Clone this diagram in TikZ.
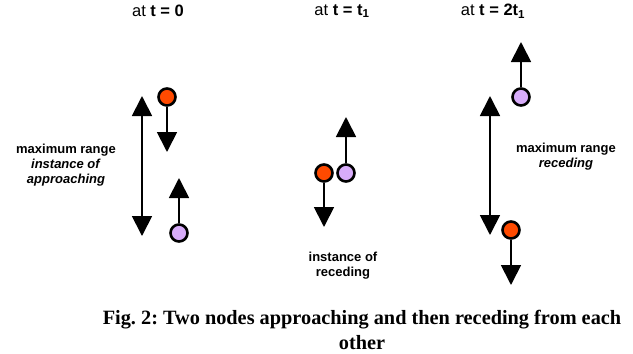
\documentclass[tikz,border=0pt]{standalone}
\usepackage{fontspec}
\setmainfont{Liberation Sans}
\newfontfamily\capfont{Liberation Serif}
\usetikzlibrary{arrows.meta}
\definecolor{nodeorange}{RGB}{255,74,0}
\definecolor{nodelilac}{RGB}{216,172,250}
\frenchspacing
\begin{document}
\begin{tikzpicture}[x=1pt,y=-1pt,
  mover/.style={draw, circle, line width=2.6pt, minimum size=17pt, inner sep=0pt},
  heading/.style={line width=1.8pt, -{Triangle[width=20pt,length=20pt]}},
  spanline/.style={line width=1.8pt, {Triangle[width=20pt,length=20pt]}-{Triangle[width=20pt,length=20pt]}},
  timehead/.style={font=\fontsize{16.5}{18}\selectfont},
  lbl/.style={font=\fontsize{13}{15}\selectfont\bfseries, align=center}]
\useasboundingbox (0,0) rectangle (633,354);

\node[timehead] (h1) at (158,11) {at \textbf{t = 0}};
\node[timehead] (h2) at (342,11) {at \textbf{t = t\textsubscript{1}}};
\node[timehead] (h3) at (493,11) {at \textbf{t = 2t\textsubscript{1}}};

% t = 0
\coordinate (r1a) at (142,96);
\coordinate (r1b) at (142,236);
\path[draw,spanline] (r1a) -- (r1b);
\node[mover, fill=nodeorange] (o1) at (167,97) {};
\node[mover, fill=nodelilac] (p1) at (179,233) {};
\coordinate (o1t) at (167,152);
\coordinate (p1t) at (179,178);
\path[draw,heading] (o1) -- (o1t);
\path[draw,heading] (p1) -- (p1t);
\node[lbl] (l1) at (66,165) {maximum range\\ \textit{instance of}\\ \textit{approaching}};

% t = t1
\node[mover, fill=nodeorange] (o2) at (324,173) {};
\node[mover, fill=nodelilac] (p2) at (346,173) {};
\coordinate (o2t) at (324,227);
\coordinate (p2t) at (346,117);
\path[draw,heading] (o2) -- (o2t);
\path[draw,heading] (p2) -- (p2t);
\node[lbl] (l2) at (343,266) {instance of\\ receding};

% t = 2t1
\coordinate (r3a) at (490,96);
\coordinate (r3b) at (490,235);
\path[draw,spanline] (r3a) -- (r3b);
\node[mover, fill=nodelilac] (p3) at (521,97) {};
\node[mover, fill=nodeorange] (o3) at (511,230) {};
\coordinate (p3t) at (521,42);
\coordinate (o3t) at (511,285);
\path[draw,heading] (p3) -- (p3t);
\path[draw,heading] (o3) -- (o3t);
\node[lbl] (l3) at (566,157) {maximum range\\ \textit{receding}};

\node[font=\capfont\fontsize{20.3}{25}\selectfont\bfseries, align=center] (cap) at (362,330)
  {Fig. 2: Two nodes approaching and then receding from each\\ other};
\end{tikzpicture}
\end{document}
